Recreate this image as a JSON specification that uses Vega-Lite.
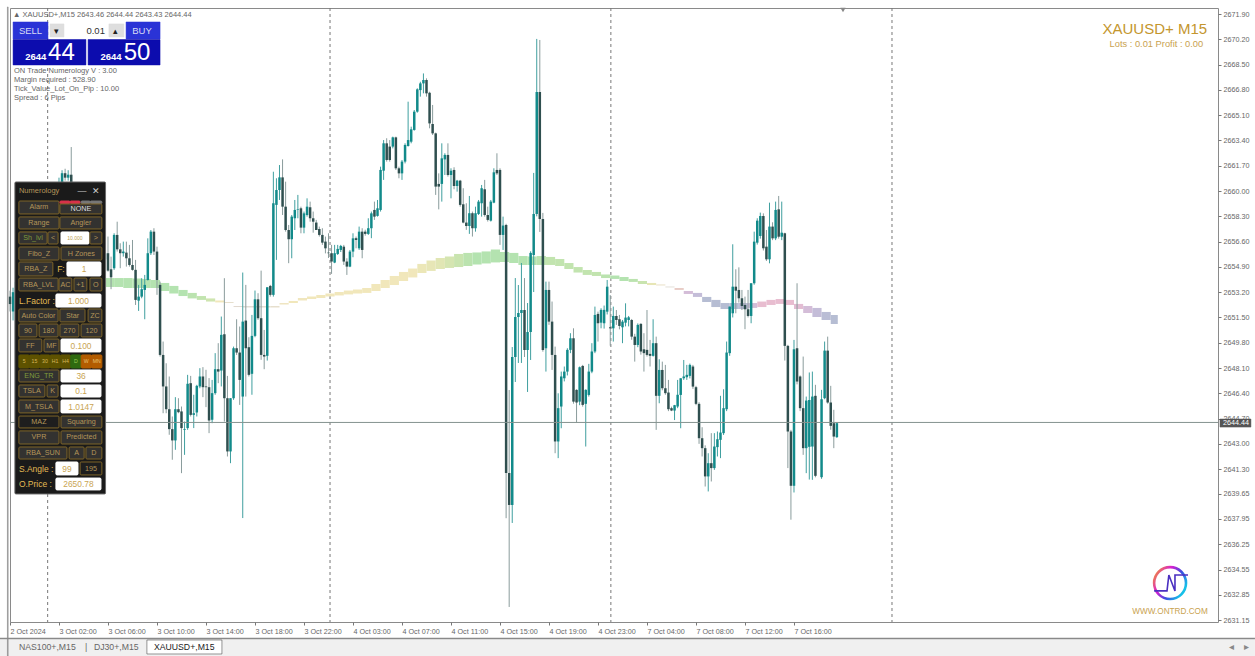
{"$schema":"https://vega.github.io/schema/vega-lite/v6.json","autosize":"none","padding":{"left":10,"top":8,"right":37,"bottom":34},"width":1208,"height":614,"background":"#ffffff","config":{"font":"Liberation Sans","view":{"stroke":"#8a8a8a"}},
"datasets":{
"candles":[
{"t":0,"o":2652.9,"h":2653.3,"l":2651.9,"c":2652.4},{"t":1,"o":2651.9,"h":2653.5,"l":2651.3,"c":2653.2},{"t":2,"o":2653.2,"h":2654.2,"l":2653.0,"c":2653.9},{"t":3,"o":2653.9,"h":2654.9,"l":2653.7,"c":2654.6},{"t":4,"o":2654.6,"h":2654.9,"l":2653.8,"c":2654.0},{"t":5,"o":2654.0,"h":2655.3,"l":2653.8,"c":2655.0},{"t":6,"o":2655.0,"h":2655.9,"l":2654.8,"c":2655.6},{"t":7,"o":2655.6,"h":2655.9,"l":2654.9,"c":2655.1},{"t":8,"o":2655.1,"h":2656.3,"l":2654.9,"c":2656.0},{"t":9,"o":2656.0,"h":2657.1,"l":2655.8,"c":2656.8},{"t":10,"o":2656.8,"h":2657.1,"l":2656.1,"c":2656.3},{"t":11,"o":2656.3,"h":2657.5,"l":2656.1,"c":2657.2},{"t":12,"o":2657.2,"h":2658.2,"l":2657.0,"c":2657.9},{"t":13,"o":2657.9,"h":2658.2,"l":2657.2,"c":2657.4},{"t":14,"o":2657.4,"h":2658.8,"l":2657.2,"c":2658.5},{"t":15,"o":2658.5,"h":2659.7,"l":2658.3,"c":2659.4},{"t":16,"o":2659.4,"h":2660.9,"l":2659.2,"c":2660.6},{"t":17,"o":2660.6,"h":2661.4,"l":2660.4,"c":2661.2},{"t":18,"o":2661.2,"h":2661.5,"l":2660.7,"c":2660.9},{"t":19,"o":2660.9,"h":2661.4,"l":2660.7,"c":2661.1},{"t":20,"o":2661.1,"h":2662.96,"l":2660.0,"c":2660.2},{"t":21,"o":2660.2,"h":2660.4,"l":2659.4,"c":2659.6},{"t":22,"o":2659.6,"h":2659.8,"l":2658.8,"c":2659.0},{"t":23,"o":2659.0,"h":2659.2,"l":2658.3,"c":2658.5},{"t":24,"o":2658.5,"h":2658.7,"l":2657.8,"c":2658.0},{"t":25,"o":2658.0,"h":2658.2,"l":2657.3,"c":2657.5},{"t":26,"o":2657.5,"h":2657.7,"l":2656.9,"c":2657.1},{"t":27,"o":2657.1,"h":2657.3,"l":2656.4,"c":2656.6},{"t":28,"o":2656.6,"h":2656.8,"l":2656.0,"c":2656.2},{"t":29,"o":2656.2,"h":2656.4,"l":2655.6,"c":2655.8},{"t":30,"o":2655.8,"h":2656.0,"l":2655.2,"c":2655.4},{"t":31,"o":2655.4,"h":2655.9,"l":2655.2,"c":2655.8},
{"t":32,"o":2655.82,"h":2656.94,"l":2654.58,"c":2654.65},{"t":33,"o":2654.74,"h":2655.59,"l":2653.40,"c":2654.20},{"t":34,"o":2654.81,"h":2657.16,"l":2654.70,"c":2657.05},{"t":35,"o":2657.05,"h":2657.94,"l":2655.93,"c":2656.08},{"t":36,"o":2656.08,"h":2656.49,"l":2654.81,"c":2655.82},{"t":37,"o":2655.82,"h":2656.60,"l":2655.59,"c":2655.93},{"t":38,"o":2655.86,"h":2656.60,"l":2654.92,"c":2655.48},{"t":39,"o":2655.48,"h":2656.38,"l":2654.92,"c":2655.03},{"t":40,"o":2655.03,"h":2656.71,"l":2654.65,"c":2654.70},{"t":41,"o":2654.70,"h":2655.37,"l":2652.34,"c":2652.68},{"t":42,"o":2652.63,"h":2653.69,"l":2651.94,"c":2652.90},{"t":43,"o":2652.90,"h":2654.14,"l":2652.79,"c":2653.40},{"t":44,"o":2653.35,"h":2654.36,"l":2651.38,"c":2653.69},{"t":45,"o":2654.02,"h":2656.82,"l":2653.98,"c":2655.82},{"t":46,"o":2655.82,"h":2657.38,"l":2655.70,"c":2657.27},{"t":47,"o":2657.27,"h":2657.50,"l":2655.70,"c":2655.93},{"t":48,"o":2655.93,"h":2656.26,"l":2653.02,"c":2654.02},{"t":49,"o":2653.69,"h":2653.91,"l":2648.87,"c":2648.98},{"t":50,"o":2648.98,"h":2649.88,"l":2645.06,"c":2646.86},{"t":51,"o":2646.86,"h":2648.42,"l":2645.06,"c":2645.33},{"t":52,"o":2645.33,"h":2647.53,"l":2643.61,"c":2643.99},{"t":53,"o":2643.99,"h":2644.84,"l":2641.93,"c":2643.23},{"t":54,"o":2643.23,"h":2646.14,"l":2642.60,"c":2645.33},{"t":55,"o":2645.33,"h":2646.07,"l":2645.06,"c":2645.13},{"t":56,"o":2645.18,"h":2645.51,"l":2641.03,"c":2644.06},{"t":57,"o":2643.94,"h":2644.50,"l":2642.26,"c":2643.99},{"t":58,"o":2644.06,"h":2647.64,"l":2643.94,"c":2647.04},{"t":59,"o":2647.08,"h":2647.57,"l":2644.84,"c":2644.95},{"t":60,"o":2644.95,"h":2646.30,"l":2644.06,"c":2645.06},{"t":61,"o":2645.11,"h":2646.97,"l":2644.84,"c":2646.90},{"t":62,"o":2646.86,"h":2648.09,"l":2646.74,"c":2647.53},{"t":63,"o":2647.53,"h":2648.16,"l":2646.14,"c":2646.81},{"t":64,"o":2646.86,"h":2647.98,"l":2645.47,"c":2646.81},{"t":65,"o":2646.81,"h":2647.42,"l":2643.72,"c":2644.57},{"t":66,"o":2644.62,"h":2647.30,"l":2644.39,"c":2646.41},{"t":67,"o":2646.41,"h":2649.10,"l":2646.30,"c":2648.02},{"t":68,"o":2648.02,"h":2649.77,"l":2647.08,"c":2647.86},{"t":69,"o":2647.93,"h":2651.56,"l":2646.86,"c":2650.33},{"t":70,"o":2650.37,"h":2654.14,"l":2644.50,"c":2646.07},{"t":71,"o":2646.07,"h":2647.57,"l":2642.15,"c":2642.49},{"t":72,"o":2642.49,"h":2646.07,"l":2641.70,"c":2646.07},{"t":73,"o":2646.07,"h":2649.54,"l":2645.96,"c":2649.43},{"t":74,"o":2649.43,"h":2651.38,"l":2648.98,"c":2649.14},{"t":75,"o":2649.14,"h":2650.89,"l":2645.62,"c":2647.30},{"t":76,"o":2646.18,"h":2654.52,"l":2638.01,"c":2651.22},{"t":77,"o":2651.29,"h":2653.69,"l":2646.18,"c":2649.43},{"t":78,"o":2649.50,"h":2650.17,"l":2647.53,"c":2647.64},{"t":79,"o":2647.71,"h":2651.67,"l":2646.30,"c":2650.26},{"t":80,"o":2650.26,"h":2653.31,"l":2650.17,"c":2652.72},{"t":81,"o":2652.72,"h":2653.13,"l":2651.34,"c":2651.45},{"t":82,"o":2651.45,"h":2654.65,"l":2648.65,"c":2648.98},{"t":83,"o":2648.98,"h":2650.66,"l":2648.02,"c":2648.87},{"t":84,"o":2648.92,"h":2653.53,"l":2648.60,"c":2653.53},{"t":85,"o":2653.62,"h":2653.69,"l":2652.90,"c":2653.02},{"t":86,"o":2653.02,"h":2661.30,"l":2652.90,"c":2659.18},{"t":87,"o":2659.07,"h":2660.86,"l":2655.37,"c":2660.07},{"t":88,"o":2660.07,"h":2661.75,"l":2659.40,"c":2660.92},{"t":89,"o":2660.92,"h":2662.13,"l":2658.39,"c":2658.95},{"t":90,"o":2658.95,"h":2660.63,"l":2657.27,"c":2657.38},{"t":91,"o":2657.38,"h":2657.72,"l":2655.15,"c":2656.76},{"t":92,"o":2656.76,"h":2658.39,"l":2655.48,"c":2658.28},{"t":93,"o":2658.17,"h":2659.40,"l":2657.38,"c":2658.73},{"t":94,"o":2658.73,"h":2659.74,"l":2658.17,"c":2658.77},{"t":95,"o":2658.84,"h":2658.95,"l":2657.16,"c":2657.54},{"t":96,"o":2657.54,"h":2658.62,"l":2657.16,"c":2658.50},{"t":97,"o":2658.39,"h":2659.51,"l":2658.28,"c":2658.95},{"t":98,"o":2658.91,"h":2659.29,"l":2657.94,"c":2658.17},{"t":99,"o":2658.17,"h":2658.62,"l":2657.20,"c":2657.94},{"t":100,"o":2657.88,"h":2658.06,"l":2657.38,"c":2657.38},{"t":101,"o":2657.45,"h":2657.61,"l":2656.94,"c":2657.05},{"t":102,"o":2657.05,"h":2657.50,"l":2656.38,"c":2656.53},{"t":103,"o":2656.60,"h":2656.94,"l":2655.81,"c":2656.15},{"t":104,"o":2655.86,"h":2657.16,"l":2655.50,"c":2655.82},{"t":105,"o":2655.82,"h":2656.38,"l":2654.43,"c":2655.26},{"t":106,"o":2655.19,"h":2656.38,"l":2655.15,"c":2655.82},{"t":107,"o":2655.77,"h":2656.38,"l":2655.70,"c":2656.11},{"t":108,"o":2656.04,"h":2656.38,"l":2655.90,"c":2656.31},{"t":109,"o":2656.26,"h":2656.38,"l":2655.03,"c":2655.26},{"t":110,"o":2655.26,"h":2655.48,"l":2654.36,"c":2654.92},{"t":111,"o":2654.92,"h":2656.04,"l":2654.88,"c":2655.93},{"t":112,"o":2655.93,"h":2657.16,"l":2655.55,"c":2656.82},{"t":113,"o":2656.83,"h":2656.94,"l":2656.15,"c":2656.71},{"t":114,"o":2656.15,"h":2657.61,"l":2656.04,"c":2657.27},{"t":115,"o":2657.27,"h":2657.50,"l":2655.48,"c":2656.04},{"t":116,"o":2657.27,"h":2657.40,"l":2657.00,"c":2657.12},{"t":117,"o":2657.12,"h":2658.17,"l":2657.05,"c":2657.50},{"t":118,"o":2657.50,"h":2658.62,"l":2656.83,"c":2658.50},{"t":119,"o":2658.73,"h":2659.29,"l":2658.06,"c":2658.28},{"t":120,"o":2658.33,"h":2659.40,"l":2658.28,"c":2658.84},{"t":121,"o":2658.73,"h":2661.64,"l":2658.62,"c":2661.42},{"t":122,"o":2661.37,"h":2663.43,"l":2660.75,"c":2663.21},{"t":123,"o":2663.21,"h":2663.55,"l":2661.98,"c":2662.09},{"t":124,"o":2662.99,"h":2663.43,"l":2661.98,"c":2662.09},{"t":125,"o":2662.99,"h":2663.66,"l":2662.87,"c":2663.61},{"t":126,"o":2663.61,"h":2663.66,"l":2661.42,"c":2661.53},{"t":127,"o":2661.53,"h":2661.64,"l":2660.86,"c":2661.19},{"t":128,"o":2661.19,"h":2662.09,"l":2660.75,"c":2661.98},{"t":129,"o":2661.98,"h":2663.21,"l":2661.86,"c":2663.10},{"t":130,"o":2663.03,"h":2666.01,"l":2662.99,"c":2663.43},{"t":131,"o":2663.32,"h":2664.33,"l":2663.21,"c":2664.15},{"t":132,"o":2664.11,"h":2665.45,"l":2664.06,"c":2665.34},{"t":133,"o":2665.34,"h":2666.91,"l":2665.27,"c":2666.84},{"t":134,"o":2666.79,"h":2667.35,"l":2666.35,"c":2667.24},{"t":135,"o":2667.24,"h":2667.91,"l":2666.57,"c":2667.47},{"t":136,"o":2667.47,"h":2667.58,"l":2666.35,"c":2666.57},{"t":137,"o":2666.61,"h":2666.68,"l":2664.22,"c":2664.55},{"t":138,"o":2664.51,"h":2665.79,"l":2663.77,"c":2663.88},{"t":139,"o":2663.88,"h":2663.93,"l":2659.74,"c":2660.30},{"t":140,"o":2660.48,"h":2661.19,"l":2658.77,"c":2660.30},{"t":141,"o":2660.48,"h":2663.21,"l":2659.29,"c":2662.20},{"t":142,"o":2662.13,"h":2662.54,"l":2661.08,"c":2662.43},{"t":143,"o":2662.43,"h":2663.21,"l":2660.97,"c":2661.08},{"t":144,"o":2661.08,"h":2661.53,"l":2659.51,"c":2661.37},{"t":145,"o":2661.42,"h":2661.60,"l":2660.12,"c":2660.34},{"t":146,"o":2660.34,"h":2660.75,"l":2659.96,"c":2660.70},{"t":147,"o":2660.70,"h":2660.75,"l":2658.95,"c":2659.07},{"t":148,"o":2659.11,"h":2660.19,"l":2657.83,"c":2657.88},{"t":149,"o":2657.88,"h":2659.18,"l":2657.39,"c":2657.65},{"t":150,"o":2657.65,"h":2659.67,"l":2657.12,"c":2658.51},{"t":151,"o":2658.51,"h":2658.62,"l":2656.94,"c":2657.50},{"t":152,"o":2657.50,"h":2658.95,"l":2657.27,"c":2658.51},{"t":153,"o":2658.46,"h":2659.40,"l":2658.39,"c":2659.29},{"t":154,"o":2659.18,"h":2660.41,"l":2658.28,"c":2660.19},{"t":155,"o":2660.12,"h":2660.75,"l":2658.28,"c":2658.39},{"t":156,"o":2658.39,"h":2658.95,"l":2657.95,"c":2658.06},{"t":157,"o":2658.01,"h":2659.40,"l":2657.95,"c":2659.29},{"t":158,"o":2659.22,"h":2661.53,"l":2659.18,"c":2661.26},{"t":159,"o":2661.42,"h":2662.54,"l":2661.08,"c":2661.19},{"t":160,"o":2661.42,"h":2661.53,"l":2656.38,"c":2657.05},{"t":161,"o":2657.05,"h":2658.28,"l":2656.04,"c":2657.68},{"t":162,"o":2657.72,"h":2657.80,"l":2638.00,"c":2641.04},{"t":163,"o":2641.04,"h":2646.62,"l":2632.03,"c":2638.89},{"t":164,"o":2638.89,"h":2649.51,"l":2637.68,"c":2648.84},{"t":165,"o":2648.84,"h":2654.15,"l":2647.16,"c":2651.53},{"t":166,"o":2651.53,"h":2653.68,"l":2648.44,"c":2651.80},{"t":167,"o":2651.80,"h":2655.16,"l":2648.44,"c":2652.00},{"t":168,"o":2652.00,"h":2654.15,"l":2648.84,"c":2649.31},{"t":169,"o":2649.31,"h":2652.47,"l":2646.49,"c":2650.52},{"t":170,"o":2650.52,"h":2655.95,"l":2648.64,"c":2655.84},{"t":171,"o":2655.70,"h":2661.22,"l":2653.21,"c":2658.46},{"t":172,"o":2658.46,"h":2670.23,"l":2658.30,"c":2666.66},{"t":173,"o":2666.66,"h":2670.16,"l":2657.25,"c":2658.12},{"t":174,"o":2658.12,"h":2658.53,"l":2649.20,"c":2649.31},{"t":175,"o":2649.43,"h":2653.91,"l":2647.86,"c":2653.35},{"t":176,"o":2653.35,"h":2653.91,"l":2651.00,"c":2651.22},{"t":177,"o":2651.22,"h":2652.57,"l":2647.97,"c":2648.98},{"t":178,"o":2648.98,"h":2649.54,"l":2642.37,"c":2643.16},{"t":179,"o":2643.16,"h":2646.40,"l":2642.04,"c":2645.40},{"t":180,"o":2645.51,"h":2647.86,"l":2644.05,"c":2647.53},{"t":181,"o":2647.41,"h":2648.20,"l":2647.20,"c":2647.86},{"t":182,"o":2647.86,"h":2649.43,"l":2647.60,"c":2649.32},{"t":183,"o":2649.32,"h":2650.44,"l":2649.10,"c":2650.10},{"t":184,"o":2650.10,"h":2650.77,"l":2645.70,"c":2645.84},{"t":185,"o":2646.63,"h":2646.67,"l":2644.43,"c":2645.78},{"t":186,"o":2645.84,"h":2648.20,"l":2645.60,"c":2648.15},{"t":187,"o":2648.24,"h":2648.31,"l":2645.50,"c":2645.62},{"t":188,"o":2645.69,"h":2646.67,"l":2642.82,"c":2646.63},{"t":189,"o":2646.29,"h":2648.38,"l":2646.18,"c":2647.86},{"t":190,"o":2647.86,"h":2649.77,"l":2647.75,"c":2649.21},{"t":191,"o":2649.21,"h":2652.23,"l":2649.10,"c":2651.67},{"t":192,"o":2651.74,"h":2651.89,"l":2649.88,"c":2651.11},{"t":193,"o":2651.15,"h":2652.12,"l":2650.77,"c":2652.01},{"t":194,"o":2651.11,"h":2652.30,"l":2650.75,"c":2652.01},{"t":195,"o":2651.89,"h":2654.02,"l":2651.70,"c":2653.57},{"t":196,"o":2650.84,"h":2653.00,"l":2649.60,"c":2650.77},{"t":197,"o":2650.77,"h":2652.23,"l":2649.88,"c":2651.60},{"t":198,"o":2651.60,"h":2652.00,"l":2651.00,"c":2651.33},{"t":199,"o":2651.38,"h":2651.67,"l":2650.70,"c":2650.93},{"t":200,"o":2650.84,"h":2651.33,"l":2649.77,"c":2651.22},{"t":201,"o":2651.15,"h":2652.45,"l":2650.90,"c":2651.49},{"t":202,"o":2651.33,"h":2651.60,"l":2650.90,"c":2651.51},{"t":203,"o":2651.33,"h":2651.40,"l":2650.00,"c":2650.21},{"t":204,"o":2650.21,"h":2650.40,"l":2648.53,"c":2649.65},{"t":205,"o":2649.65,"h":2651.10,"l":2649.50,"c":2651.00},{"t":206,"o":2651.07,"h":2651.11,"l":2649.00,"c":2649.21},{"t":207,"o":2649.36,"h":2650.44,"l":2647.86,"c":2649.10},{"t":208,"o":2649.32,"h":2652.00,"l":2648.87,"c":2648.98},{"t":209,"o":2649.05,"h":2649.99,"l":2648.20,"c":2648.92},{"t":210,"o":2648.92,"h":2651.38,"l":2648.87,"c":2649.77},{"t":211,"o":2649.77,"h":2650.21,"l":2643.94,"c":2646.23},{"t":212,"o":2646.23,"h":2648.69,"l":2645.73,"c":2647.97},{"t":213,"o":2647.97,"h":2648.53,"l":2646.60,"c":2646.74},{"t":214,"o":2646.74,"h":2648.31,"l":2646.30,"c":2646.41},{"t":215,"o":2646.45,"h":2647.30,"l":2645.20,"c":2645.33},{"t":216,"o":2645.40,"h":2645.50,"l":2645.20,"c":2645.24},{"t":217,"o":2645.24,"h":2645.62,"l":2644.60,"c":2645.60},{"t":218,"o":2645.51,"h":2647.30,"l":2645.40,"c":2646.30},{"t":219,"o":2646.29,"h":2647.41,"l":2644.05,"c":2647.41},{"t":220,"o":2647.41,"h":2648.64,"l":2647.30,"c":2647.53},{"t":221,"o":2647.48,"h":2648.31,"l":2647.30,"c":2647.64},{"t":222,"o":2647.57,"h":2648.40,"l":2647.40,"c":2648.31},{"t":223,"o":2648.20,"h":2648.31,"l":2646.70,"c":2646.85},{"t":224,"o":2646.81,"h":2646.90,"l":2645.60,"c":2645.69},{"t":225,"o":2645.69,"h":2645.80,"l":2643.00,"c":2643.38},{"t":226,"o":2643.38,"h":2644.12,"l":2642.15,"c":2642.71},{"t":227,"o":2642.71,"h":2642.90,"l":2640.13,"c":2640.81},{"t":228,"o":2640.81,"h":2642.37,"l":2639.80,"c":2641.70},{"t":229,"o":2641.70,"h":2643.72,"l":2640.47,"c":2641.37},{"t":230,"o":2641.37,"h":2643.72,"l":2641.25,"c":2642.82},{"t":231,"o":2642.78,"h":2643.83,"l":2642.15,"c":2643.31},{"t":232,"o":2643.27,"h":2646.23,"l":2642.04,"c":2643.76},{"t":233,"o":2643.72,"h":2646.67,"l":2643.60,"c":2645.40},{"t":234,"o":2645.33,"h":2649.88,"l":2645.20,"c":2649.14},{"t":235,"o":2649.10,"h":2652.23,"l":2648.92,"c":2652.23},{"t":236,"o":2651.78,"h":2656.42,"l":2651.50,"c":2653.57},{"t":237,"o":2653.57,"h":2654.74,"l":2651.78,"c":2653.30},{"t":238,"o":2653.35,"h":2654.87,"l":2652.50,"c":2652.79},{"t":239,"o":2652.79,"h":2653.35,"l":2652.00,"c":2652.27},{"t":240,"o":2652.34,"h":2652.90,"l":2650.71,"c":2652.05},{"t":241,"o":2652.05,"h":2653.35,"l":2651.50,"c":2651.60},{"t":242,"o":2651.60,"h":2653.80,"l":2651.11,"c":2653.80},{"t":243,"o":2653.80,"h":2657.27,"l":2653.70,"c":2656.60},{"t":244,"o":2656.53,"h":2658.17,"l":2656.40,"c":2658.01},{"t":245,"o":2656.98,"h":2658.55,"l":2656.80,"c":2658.32},{"t":246,"o":2658.32,"h":2658.50,"l":2656.00,"c":2656.15},{"t":247,"o":2656.26,"h":2657.38,"l":2655.30,"c":2655.41},{"t":248,"o":2655.41,"h":2659.22,"l":2655.14,"c":2657.61},{"t":249,"o":2657.61,"h":2657.90,"l":2656.70,"c":2656.82},{"t":250,"o":2656.82,"h":2659.29,"l":2656.70,"c":2658.73},{"t":251,"o":2658.77,"h":2659.67,"l":2656.80,"c":2656.93},{"t":252,"o":2656.93,"h":2659.29,"l":2656.70,"c":2657.20},{"t":253,"o":2657.16,"h":2657.20,"l":2648.60,"c":2649.59},{"t":254,"o":2649.59,"h":2649.66,"l":2641.37,"c":2643.83},{"t":255,"o":2643.83,"h":2643.94,"l":2637.90,"c":2640.18},{"t":256,"o":2640.18,"h":2649.99,"l":2639.73,"c":2649.36},{"t":257,"o":2649.43,"h":2653.80,"l":2647.00,"c":2647.19},{"t":258,"o":2647.53,"h":2647.60,"l":2645.20,"c":2645.40},{"t":259,"o":2645.40,"h":2648.87,"l":2642.26,"c":2642.71},{"t":260,"o":2642.71,"h":2646.18,"l":2641.03,"c":2645.91},{"t":261,"o":2642.80,"h":2647.80,"l":2640.60,"c":2645.95},{"t":262,"o":2642.82,"h":2647.86,"l":2640.58,"c":2646.18},{"t":263,"o":2646.23,"h":2646.97,"l":2640.75,"c":2640.85},{"t":265,"o":2640.76,"h":2646.63,"l":2640.65,"c":2646.00},{"t":266,"o":2646.07,"h":2649.88,"l":2646.00,"c":2649.27},{"t":267,"o":2649.27,"h":2650.21,"l":2645.70,"c":2645.78},{"t":268,"o":2645.78,"h":2646.90,"l":2643.95,"c":2644.21},{"t":269,"o":2644.39,"h":2645.29,"l":2642.71,"c":2643.49},{"t":270,"o":2643.45,"h":2644.44,"l":2643.40,"c":2644.39}],
"ribbon":[
{"a":31,"b":34,"hi":2654.15,"lo":2653.55,"v":2},{"a":34,"b":37,"hi":2654.15,"lo":2653.55,"v":2},{"a":37,"b":40,"hi":2654.15,"lo":2653.48,"v":2},{"a":40,"b":43,"hi":2654.12,"lo":2653.48,"v":2},{"a":43,"b":46,"hi":2654.09,"lo":2653.48,"v":2},{"a":46,"b":49,"hi":2654.02,"lo":2653.48,"v":2},{"a":49,"b":52,"hi":2653.82,"lo":2653.28,"v":2},{"a":52,"b":55,"hi":2653.62,"lo":2653.11,"v":2},{"a":55,"b":58,"hi":2653.35,"lo":2652.94,"v":2},{"a":58,"b":61,"hi":2653.15,"lo":2652.78,"v":1.9},{"a":61,"b":64,"hi":2652.94,"lo":2652.68,"v":1.8},{"a":64,"b":67,"hi":2652.78,"lo":2652.57,"v":1.6},{"a":67,"b":70,"hi":2652.64,"lo":2652.51,"v":1},{"a":70,"b":73,"hi":2652.54,"lo":2652.47,"v":0.3},{"a":73,"b":76,"hi":2652.27,"lo":2652.20,"v":-0.1},{"a":76,"b":79,"hi":2652.27,"lo":2652.17,"v":0},{"a":79,"b":82,"hi":2652.27,"lo":2652.17,"v":0},{"a":82,"b":85,"hi":2652.27,"lo":2652.17,"v":0.1},{"a":85,"b":88,"hi":2652.27,"lo":2652.17,"v":0.3},{"a":88,"b":91,"hi":2652.47,"lo":2652.37,"v":0.8},{"a":91,"b":94,"hi":2652.61,"lo":2652.47,"v":1},{"a":94,"b":97,"hi":2652.81,"lo":2652.64,"v":0.9},{"a":97,"b":100,"hi":2652.91,"lo":2652.74,"v":1},{"a":100,"b":103,"hi":2653.01,"lo":2652.81,"v":1},{"a":103,"b":106,"hi":2653.11,"lo":2652.91,"v":1},{"a":106,"b":109,"hi":2653.21,"lo":2652.98,"v":1},{"a":109,"b":112,"hi":2653.31,"lo":2653.05,"v":1},{"a":112,"b":115,"hi":2653.38,"lo":2653.11,"v":1},{"a":115,"b":118,"hi":2653.48,"lo":2653.15,"v":1},{"a":118,"b":121,"hi":2653.75,"lo":2653.28,"v":1},{"a":121,"b":124,"hi":2654.02,"lo":2653.48,"v":1},{"a":124,"b":127,"hi":2654.29,"lo":2653.68,"v":1},{"a":127,"b":130,"hi":2654.56,"lo":2653.95,"v":1},{"a":130,"b":133,"hi":2654.79,"lo":2654.19,"v":1},{"a":133,"b":136,"hi":2655.10,"lo":2654.49,"v":1.1},{"a":136,"b":139,"hi":2655.33,"lo":2654.63,"v":1.2},{"a":139,"b":142,"hi":2655.50,"lo":2654.76,"v":1.3},{"a":142,"b":145,"hi":2655.60,"lo":2654.83,"v":1.5},{"a":145,"b":148,"hi":2655.77,"lo":2654.89,"v":1.7},{"a":148,"b":151,"hi":2655.84,"lo":2654.96,"v":1.9},{"a":151,"b":154,"hi":2655.87,"lo":2655.06,"v":2},{"a":154,"b":157,"hi":2655.94,"lo":2655.13,"v":2},{"a":157,"b":160,"hi":2656.07,"lo":2655.20,"v":2},{"a":160,"b":163,"hi":2655.90,"lo":2655.23,"v":2},{"a":163,"b":166,"hi":2655.84,"lo":2655.16,"v":2},{"a":166,"b":169,"hi":2655.63,"lo":2655.03,"v":2},{"a":169,"b":172,"hi":2655.60,"lo":2655.03,"v":2},{"a":172,"b":175,"hi":2655.63,"lo":2655.03,"v":1.9},{"a":175,"b":178,"hi":2655.57,"lo":2655.03,"v":1.8},{"a":178,"b":181,"hi":2655.43,"lo":2654.96,"v":1.8},{"a":181,"b":184,"hi":2655.16,"lo":2654.76,"v":1.8},{"a":184,"b":187,"hi":2654.89,"lo":2654.52,"v":1.8},{"a":187,"b":190,"hi":2654.69,"lo":2654.36,"v":1.8},{"a":190,"b":193,"hi":2654.56,"lo":2654.29,"v":1.8},{"a":193,"b":196,"hi":2654.39,"lo":2654.15,"v":1.9},{"a":196,"b":199,"hi":2654.32,"lo":2654.09,"v":2},{"a":199,"b":202,"hi":2654.22,"lo":2653.95,"v":2},{"a":202,"b":205,"hi":2654.09,"lo":2653.89,"v":1.9},{"a":205,"b":208,"hi":2653.95,"lo":2653.75,"v":1.7},{"a":208,"b":211,"hi":2653.82,"lo":2653.68,"v":1.2},{"a":211,"b":214,"hi":2653.72,"lo":2653.65,"v":0.5},{"a":214,"b":217,"hi":2653.58,"lo":2653.52,"v":0},{"a":217,"b":220,"hi":2653.48,"lo":2653.35,"v":-0.5},{"a":220,"b":223,"hi":2653.28,"lo":2653.08,"v":-1.4},{"a":223,"b":226,"hi":2653.15,"lo":2652.88,"v":-1.7},{"a":226,"b":229,"hi":2652.88,"lo":2652.54,"v":-2},{"a":229,"b":232,"hi":2652.68,"lo":2652.20,"v":-2},{"a":232,"b":235,"hi":2652.47,"lo":2652.07,"v":-2},{"a":235,"b":238,"hi":2652.47,"lo":2652.07,"v":-2},{"a":238,"b":241,"hi":2652.47,"lo":2652.07,"v":-1.8},{"a":241,"b":244,"hi":2652.47,"lo":2652.14,"v":-1.4},{"a":244,"b":247,"hi":2652.57,"lo":2652.20,"v":-1},{"a":247,"b":250,"hi":2652.68,"lo":2652.34,"v":-1},{"a":250,"b":253,"hi":2652.74,"lo":2652.41,"v":-1},{"a":253,"b":256,"hi":2652.68,"lo":2652.34,"v":-1},{"a":256,"b":259,"hi":2652.41,"lo":2652.07,"v":-1.1},{"a":259,"b":262,"hi":2652.27,"lo":2651.80,"v":-1.4},{"a":262,"b":265,"hi":2652.14,"lo":2651.53,"v":-1.7},{"a":265,"b":268,"hi":2651.87,"lo":2651.33,"v":-1.9},{"a":268,"b":270.3,"hi":2651.67,"lo":2651.06,"v":-2}],
"panel":[
{"a":1.6,"b":31.2,"hi":2660.61,"lo":2639.63,"k":"shell"},
{"a":2.9,"b":16,"hi":2659.33,"lo":2658.46,"k":"btn","m":9.45,"n":2658.9,"s":"Alarm"},
{"a":16.3,"b":19.6,"hi":2659.33,"lo":2659.16,"k":"red"},{"a":19.6,"b":22.9,"hi":2659.33,"lo":2659.16,"k":"red"},{"a":23.2,"b":26.2,"hi":2659.33,"lo":2659.16,"k":"grey"},{"a":26.2,"b":30,"hi":2659.33,"lo":2659.16,"k":"grey"},
{"a":16.3,"b":30,"hi":2659.13,"lo":2658.46,"k":"none","m":23.15,"n":2658.8,"s":"NONE"},
{"a":2.9,"b":16,"hi":2658.26,"lo":2657.45,"k":"btn","m":9.45,"n":2657.85,"s":"Range"},{"a":16.3,"b":30,"hi":2658.26,"lo":2657.45,"k":"btn","m":23.15,"n":2657.85,"s":"Angler"},
{"a":2.9,"b":12.1,"hi":2657.25,"lo":2656.44,"k":"green","m":7.5,"n":2656.85,"s":"Sh_lvl"},{"a":12.4,"b":15.7,"hi":2657.25,"lo":2656.44,"k":"btn","m":14.05,"n":2656.85,"s":"<"},{"a":16.65,"b":25.8,"hi":2657.25,"lo":2656.44,"k":"small","m":21.2,"n":2656.85,"s":"10.000"},{"a":26.1,"b":30,"hi":2657.25,"lo":2656.44,"k":"btn","m":28,"n":2656.85,"s":">"},
{"a":2.9,"b":16,"hi":2656.24,"lo":2655.36,"k":"btn","m":9.45,"n":2655.8,"s":"Fibo_Z"},{"a":16.65,"b":30,"hi":2656.24,"lo":2655.36,"k":"btn","m":23.3,"n":2655.8,"s":"H Zones"},
{"a":2.9,"b":14,"hi":2655.23,"lo":2654.29,"k":"btn","m":8.45,"n":2654.76,"s":"RBA_Z"},{"a":18.6,"b":29.7,"hi":2655.23,"lo":2654.29,"k":"input","m":24.15,"n":2654.76,"s":"1"},
{"a":2.9,"b":15.7,"hi":2654.15,"lo":2653.28,"k":"btn","m":9.3,"n":2653.71,"s":"RBA_LVL"},{"a":16,"b":20.2,"hi":2654.15,"lo":2653.28,"k":"btn","m":18.1,"n":2653.71,"s":"AC"},{"a":20.9,"b":25.1,"hi":2654.15,"lo":2653.28,"k":"btn","m":23,"n":2653.71,"s":"+1"},{"a":26.1,"b":30,"hi":2654.15,"lo":2653.28,"k":"btn","m":28,"n":2653.71,"s":"O"},
{"a":15,"b":29.7,"hi":2653.08,"lo":2652.20,"k":"input","m":22.35,"n":2652.64,"s":"1.000"},
{"a":2.9,"b":15.7,"hi":2652.07,"lo":2651.20,"k":"btn","m":9.3,"n":2651.63,"s":"Auto Color"},{"a":16.3,"b":24.5,"hi":2652.07,"lo":2651.20,"k":"btn","m":20.4,"n":2651.63,"s":"Star"},{"a":25.5,"b":30,"hi":2652.07,"lo":2651.20,"k":"btn","m":27.75,"n":2651.63,"s":"ZC"},
{"a":2.9,"b":8.8,"hi":2651.06,"lo":2650.19,"k":"btn","m":5.85,"n":2650.62,"s":"90"},{"a":9.5,"b":15.7,"hi":2651.06,"lo":2650.19,"k":"btn","m":12.6,"n":2650.62,"s":"180"},{"a":16.3,"b":22.5,"hi":2651.06,"lo":2650.19,"k":"btn","m":19.4,"n":2650.62,"s":"270"},{"a":23.2,"b":30,"hi":2651.06,"lo":2650.19,"k":"btn","m":26.6,"n":2650.62,"s":"120"},
{"a":2.9,"b":10.4,"hi":2650.05,"lo":2649.18,"k":"btn","m":6.65,"n":2649.61,"s":"FF"},{"a":11.1,"b":16,"hi":2650.05,"lo":2649.18,"k":"btn","m":13.55,"n":2649.61,"s":"MF"},{"a":16.65,"b":29.7,"hi":2650.05,"lo":2649.18,"k":"input","m":23.2,"n":2649.61,"s":"0.100"},
{"a":2.9,"b":6.29,"hi":2648.98,"lo":2648.10,"k":"olive","m":4.6,"n":2648.54,"s":"5"},{"a":6.29,"b":9.68,"hi":2648.98,"lo":2648.10,"k":"olive","m":8,"n":2648.54,"s":"15"},{"a":9.68,"b":13.06,"hi":2648.98,"lo":2648.10,"k":"olive","m":11.4,"n":2648.54,"s":"30"},{"a":13.06,"b":16.45,"hi":2648.98,"lo":2648.10,"k":"olive","m":14.75,"n":2648.54,"s":"H1"},{"a":16.45,"b":19.84,"hi":2648.98,"lo":2648.10,"k":"olive","m":18.15,"n":2648.54,"s":"H4"},{"a":19.84,"b":23.23,"hi":2648.98,"lo":2648.10,"k":"lime","m":21.5,"n":2648.54,"s":"D"},{"a":23.23,"b":26.61,"hi":2648.98,"lo":2648.10,"k":"orange","m":24.9,"n":2648.54,"s":"W"},{"a":26.61,"b":30,"hi":2648.98,"lo":2648.10,"k":"orange","m":28.3,"n":2648.54,"s":"MN"},
{"a":2.9,"b":16,"hi":2647.97,"lo":2647.16,"k":"green","m":9.45,"n":2647.56,"s":"ENG_TR"},{"a":16.65,"b":29.7,"hi":2647.97,"lo":2647.16,"k":"input","m":23.2,"n":2647.56,"s":"36"},
{"a":2.9,"b":11.4,"hi":2646.96,"lo":2646.15,"k":"btn","m":7.15,"n":2646.55,"s":"TSLA"},{"a":12.1,"b":15.7,"hi":2646.96,"lo":2646.15,"k":"btn","m":13.9,"n":2646.55,"s":"K"},{"a":16.65,"b":29.7,"hi":2646.96,"lo":2646.15,"k":"input","m":23.2,"n":2646.55,"s":"0.1"},
{"a":2.9,"b":16,"hi":2645.95,"lo":2645.08,"k":"btn","m":9.45,"n":2645.51,"s":"M_TSLA"},{"a":16.65,"b":29.7,"hi":2645.95,"lo":2645.08,"k":"input","m":23.2,"n":2645.51,"s":"1.0147"},
{"a":2.9,"b":16,"hi":2644.87,"lo":2644.07,"k":"dark","m":9.45,"n":2644.47,"s":"MAZ"},{"a":16.65,"b":30,"hi":2644.87,"lo":2644.07,"k":"btn","m":23.3,"n":2644.47,"s":"Squaring"},
{"a":2.9,"b":16,"hi":2643.87,"lo":2642.99,"k":"btn","m":9.45,"n":2643.43,"s":"VPR"},{"a":16.65,"b":30,"hi":2643.87,"lo":2642.99,"k":"btn","m":23.3,"n":2643.43,"s":"Predicted"},
{"a":2.9,"b":18.6,"hi":2642.79,"lo":2641.98,"k":"btn","m":10.75,"n":2642.38,"s":"RBA_SUN"},{"a":19.3,"b":24.2,"hi":2642.79,"lo":2641.98,"k":"btn","m":21.75,"n":2642.38,"s":"A"},{"a":24.8,"b":30,"hi":2642.79,"lo":2641.98,"k":"btn","m":27.4,"n":2642.38,"s":"D"},
{"a":15,"b":22.2,"hi":2641.78,"lo":2640.91,"k":"input","m":18.6,"n":2641.34,"s":"99"},{"a":22.9,"b":30,"hi":2641.78,"lo":2640.91,"k":"dark","m":26.45,"n":2641.34,"s":"195"},
{"a":15,"b":29.7,"hi":2640.70,"lo":2639.90,"k":"input","m":22.35,"n":2640.30,"s":"2650.78"}],
"chrome":[
{"a":-3.27,"b":406.5,"hi":2629.94,"lo":2628.73,"k":"tabbar"},{"a":-3.27,"b":406.5,"hi":2629.94,"lo":2629.88,"k":"edge"},{"a":-0.85,"b":-0.6,"hi":2672.38,"lo":2628.73,"k":"edge"},{"a":44.7,"b":69.2,"hi":2629.81,"lo":2628.87,"k":"tab"},
{"a":395.1,"b":405.2,"hi":2644.67,"lo":2644.13,"k":"tag"},
{"a":1,"b":12.4,"hi":2671.37,"lo":2670.23,"k":"sell"},{"a":37.9,"b":49,"hi":2671.37,"lo":2670.23,"k":"sell"},{"a":1,"b":24.8,"hi":2670.19,"lo":2668.48,"k":"quote"},{"a":25.5,"b":49,"hi":2670.19,"lo":2668.48,"k":"quote"},{"a":13.06,"b":17.63,"hi":2671.24,"lo":2670.36,"k":"spin"},{"a":32.3,"b":37.2,"hi":2671.24,"lo":2670.36,"k":"spin"}],
"leftText":[
{"t":1,"p":2671.84,"s":"▲ XAUUSD+,M15  2643.46 2644.44 2643.43 2644.44","k":"info"},
{"t":1.3,"p":2668.07,"s":"ON Trade Numerology V : 3.00","k":"info"},{"t":1.3,"p":2667.47,"s":"Margin required : 528.90","k":"info"},{"t":1.3,"p":2666.86,"s":"Tick_Value_Lot_On_Pip : 10.00","k":"info"},{"t":1.3,"p":2666.26,"s":"Spread : 6  Pips","k":"info"},
{"t":2.9,"p":2660.0,"s":"Numerology","k":"title"},
{"t":2.9,"p":2652.61,"s":"L.Factor :","k":"cap"},{"t":15.4,"p":2654.76,"s":"F:","k":"cap"},{"t":2.9,"p":2641.31,"s":"S.Angle :","k":"cap"},{"t":2.9,"p":2640.30,"s":"O.Price :","k":"cap"},
{"t":2.94,"p":2629.34,"s":"NAS100+,M15","k":"tab"},{"t":24.5,"p":2629.34,"s":"|","k":"tab"},{"t":27.4,"p":2629.34,"s":"DJ30+,M15","k":"tab"},{"t":47,"p":2629.34,"s":"XAUUSD+,M15","k":"tabon"},
{"t":396.1,"p":2644.42,"s":"2644.44","k":"tag"}],
"rightText":[
{"t":390.9,"p":2670.90,"s":"XAUUSD+ M15","k":"head"},{"t":389.6,"p":2669.89,"s":"Lots : 0.01 Profit : 0.00","k":"sub"},{"t":31,"p":2670.77,"s":"0.01","k":"lot"}],
"midText":[
{"t":378.8,"p":2631.69,"s":"WWW.ONTRD.COM","k":"site"},{"t":6.7,"p":2670.77,"s":"SELL","k":"top"},{"t":43.1,"p":2670.77,"s":"BUY","k":"top"},{"t":16.8,"p":2669.3,"s":"44","k":"big"},{"t":41.5,"p":2669.3,"s":"50","k":"big"},{"t":15.3,"p":2670.77,"s":"▾","k":"arrow"},{"t":34.6,"p":2670.77,"s":"▴","k":"arrow"},{"t":23.5,"p":2660.0,"s":"—","k":"win"},{"t":28.1,"p":2660.0,"s":"✕","k":"win"},{"t":399,"p":2629.34,"s":"◂","k":"grey"},{"t":403.6,"p":2629.34,"s":"▸","k":"grey"}],
"smallQuote":[{"t":8.4,"p":2669.02,"s":"2644"},{"t":33,"p":2669.02,"s":"2644"}],
"logoN":[{"t":373.6,"p":2633.11,"i":0},{"t":377.8,"p":2633.11,"i":1},{"t":378.4,"p":2634.18,"i":2},{"t":380.4,"p":2633.11,"i":3},{"t":380.4,"p":2634.18,"i":4},{"t":384.65,"p":2634.18,"i":5}],
"logoRing":[{"t":378.8,"p":2633.64}],
"marker":[{"t":272,"p":2672.18}],
"separators":[{"t":12.3},{"t":104.5},{"t":196.2},{"t":288}],
"last":[{"p":2644.44}]
},
"layer":[
{"data":{"name":"separators"},"mark":{"type":"rule","color":"#777777","strokeDash":[3,3],"strokeWidth":1},"encoding":{"x":{"field":"t","type":"quantitative","title":null,"scale":{"domain":[0,394.45],"nice":false,"zero":false},"axis":{"orient":"bottom","values":[0,16,32,48,64,80,96,112,128,144,160,176,192,208,224,240,256],"labelExpr":"['2 Oct 2024','3 Oct 02:00','3 Oct 06:00','3 Oct 10:00','3 Oct 14:00','3 Oct 18:00','3 Oct 22:00','4 Oct 03:00','4 Oct 07:00','4 Oct 11:00','4 Oct 15:00','4 Oct 19:00','4 Oct 23:00','7 Oct 04:00','7 Oct 08:00','7 Oct 12:00','7 Oct 16:00'][round(datum.value/16)]","labelAlign":"left","labelFontSize":7.2,"labelColor":"#666666","labelPadding":2,"labelFlush":false,"labelBound":false,"labelOverlap":false,"tickSize":3,"tickColor":"#777777","domain":false,"grid":false}}}},
{"data":{"name":"ribbon"},"mark":{"type":"rect"},"encoding":{"x":{"field":"a","type":"quantitative","axis":null},"x2":{"field":"b"},"y":{"field":"hi","type":"quantitative","title":null,"scale":{"domain":[2631.02,2672.31],"nice":false,"zero":false},"axis":{"orient":"right","values":[2671.90,2670.20,2668.50,2666.80,2665.10,2663.40,2661.70,2660.00,2658.30,2656.60,2654.90,2653.20,2651.50,2649.80,2648.10,2646.40,2644.70,2643.00,2641.30,2639.65,2637.95,2636.25,2634.55,2632.85,2631.15],"format":".2f","labelFontSize":7.2,"labelColor":"#666666","labelPadding":2,"labelOverlap":false,"labelBound":false,"labelFlush":false,"tickSize":3,"tickColor":"#777777","domain":false,"grid":false}},"y2":{"field":"lo"},"fill":{"field":"v","type":"quantitative","legend":null,"scale":{"domain":[-2,-1,0,1,2],"range":["#b6bdd3","#e8bdd0","#e0dcd4","#f1e7bb","#b4e3b0"]}}}},
{"data":{"name":"candles"},"mark":{"type":"rule","strokeWidth":1},"encoding":{"x":{"field":"t","type":"quantitative","axis":null},"y":{"field":"l","type":"quantitative","axis":null},"y2":{"field":"h"},"color":{"condition":{"test":"datum.c>=datum.o","value":"#3f9f9f"},"value":"#8a9c9c"}}},
{"data":{"name":"candles"},"mark":{"type":"rule","strokeWidth":2.5},"encoding":{"x":{"field":"t","type":"quantitative","axis":null},"y":{"field":"o","type":"quantitative","axis":null},"y2":{"field":"c"},"color":{"condition":{"test":"datum.c>=datum.o","value":"#128a8a"},"value":"#2f4f4f"}}},
{"data":{"name":"last"},"mark":{"type":"rule","color":"#84928f","strokeWidth":1},"encoding":{"y":{"field":"p","type":"quantitative","axis":null}}},
{"data":{"name":"marker"},"mark":{"type":"point","shape":"triangle-down","filled":true,"color":"#888888","size":28,"opacity":1},"encoding":{"x":{"field":"t","type":"quantitative","axis":null},"y":{"field":"p","type":"quantitative","axis":null}}},
{"data":{"name":"logoRing"},"mark":{"type":"point","shape":"circle","filled":false,"size":1018,"strokeWidth":2.6,"opacity":1,"stroke":{"gradient":"linear","x1":0,"y1":0,"x2":1,"y2":0.6,"stops":[{"offset":0,"color":"#f7a21b"},{"offset":0.4,"color":"#d81fd0"},{"offset":0.7,"color":"#3a4ee0"},{"offset":1,"color":"#16c0e8"}]}},"encoding":{"x":{"field":"t","type":"quantitative","axis":null},"y":{"field":"p","type":"quantitative","axis":null}}},
{"data":{"name":"logoN"},"mark":{"type":"line","color":"#4a2fc0","strokeWidth":1.6},"encoding":{"x":{"field":"t","type":"quantitative","axis":null},"y":{"field":"p","type":"quantitative","axis":null},"order":{"field":"i"}}},
{"data":{"name":"chrome"},"mark":{"type":"rect","strokeWidth":0.5},"encoding":{"x":{"field":"a","type":"quantitative","axis":null},"x2":{"field":"b"},"y":{"field":"hi","type":"quantitative","axis":null},"y2":{"field":"lo"},"fill":{"field":"k","type":"nominal","legend":null,"scale":{"domain":["tabbar","edge","tab","tag","sell","quote","spin"],"range":["#f0f0f0","#8a8a8a","#ffffff","#555555","#2a33d6","#0c0cae","#dedede"]}},"stroke":{"field":"k","type":"nominal","legend":null,"scale":{"domain":["tabbar","edge","tab","tag","sell","quote","spin"],"range":["#f0f0f0","#8a8a8a","#333333","#555555","#2a33d6","#0c0cae","#dedede"]}}}},
{"data":{"name":"panel"},"mark":{"type":"rect","cornerRadius":1,"strokeWidth":1},"encoding":{"x":{"field":"a","type":"quantitative","axis":null},"x2":{"field":"b"},"y":{"field":"hi","type":"quantitative","axis":null},"y2":{"field":"lo"},"fill":{"field":"k","type":"nominal","legend":null,"scale":{"domain":["shell","btn","dark","green","none","input","small","red","grey","olive","lime","orange"],"range":["#1a1a1a","#333230","#1e1e1e","#333230","#333230","#ffffff","#ffffff","#d8324a","#777777","#5e5200","#2f6a10","#b35c00"]}},"stroke":{"field":"k","type":"nominal","legend":null,"scale":{"domain":["shell","btn","dark","green","none","input","small","red","grey","olive","lime","orange"],"range":["#6a6a6a","#7d6428","#7d6428","#7d6428","#7d6428","#ffffff","#ffffff","#d8324a","#777777","#5e5200","#2f6a10","#b35c00"]}}}},
{"data":{"name":"panel"},"transform":[{"filter":"isValid(datum.s)"}],"mark":{"type":"text","align":"center","baseline":"middle"},"encoding":{"x":{"field":"m","type":"quantitative","axis":null},"y":{"field":"n","type":"quantitative","axis":null},"text":{"field":"s"},"color":{"field":"k","type":"nominal","legend":null,"scale":{"domain":["btn","dark","green","none","input","small","olive","lime","orange"],"range":["#b3965a","#b3965a","#7f9c3c","#dddddd","#c9a553","#b8a050","#d8b85a","#9ccc50","#e8c070"]}},"size":{"condition":[{"test":"datum.k=='input'","value":8.4},{"test":"datum.k=='small'","value":5},{"test":"datum.k=='olive'||datum.k=='lime'||datum.k=='orange'","value":5.2}],"value":7.2}}},
{"data":{"name":"leftText"},"mark":{"type":"text","align":"left","baseline":"middle"},"encoding":{"x":{"field":"t","type":"quantitative","axis":null},"y":{"field":"p","type":"quantitative","axis":null},"text":{"field":"s"},"color":{"field":"k","type":"nominal","legend":null,"scale":{"domain":["info","title","cap","tab","tabon","tag"],"range":["#666666","#b3965a","#e3bb55","#666666","#222222","#ffffff"]}},"size":{"condition":[{"test":"datum.k=='cap'","value":8.5},{"test":"datum.k=='tab'||datum.k=='tabon'","value":8.7},{"test":"datum.k=='tag'","value":7.2}],"value":7.5}}},
{"data":{"name":"rightText"},"mark":{"type":"text","align":"right","baseline":"middle"},"encoding":{"x":{"field":"t","type":"quantitative","axis":null},"y":{"field":"p","type":"quantitative","axis":null},"text":{"field":"s"},"color":{"field":"k","type":"nominal","legend":null,"scale":{"domain":["head","sub","lot"],"range":["#c4962e","#c9a24f","#333333"]}},"size":{"condition":[{"test":"datum.k=='head'","value":15},{"test":"datum.k=='sub'","value":9.3}],"value":9.5}}},
{"data":{"name":"midText"},"mark":{"type":"text","align":"center","baseline":"middle"},"encoding":{"x":{"field":"t","type":"quantitative","axis":null},"y":{"field":"p","type":"quantitative","axis":null},"text":{"field":"s"},"color":{"field":"k","type":"nominal","legend":null,"scale":{"domain":["site","top","big","arrow","win","grey"],"range":["#c9a24f","#d8dcf5","#ffffff","#222222","#cccccc","#888888"]}},"size":{"condition":[{"test":"datum.k=='big'","value":24},{"test":"datum.k=='site'","value":8.2},{"test":"datum.k=='top'","value":9.5},{"test":"datum.k=='grey'","value":10}],"value":9}}},
{"data":{"name":"smallQuote"},"mark":{"type":"text","align":"center","baseline":"middle","fontWeight":"bold","fontSize":9.5,"color":"#ffffff"},"encoding":{"x":{"field":"t","type":"quantitative","axis":null},"y":{"field":"p","type":"quantitative","axis":null},"text":{"field":"s"}}}
],
"resolve":{"scale":{"fill":"independent","stroke":"independent","color":"independent"},"axis":{"x":"independent","y":"independent"}}}
